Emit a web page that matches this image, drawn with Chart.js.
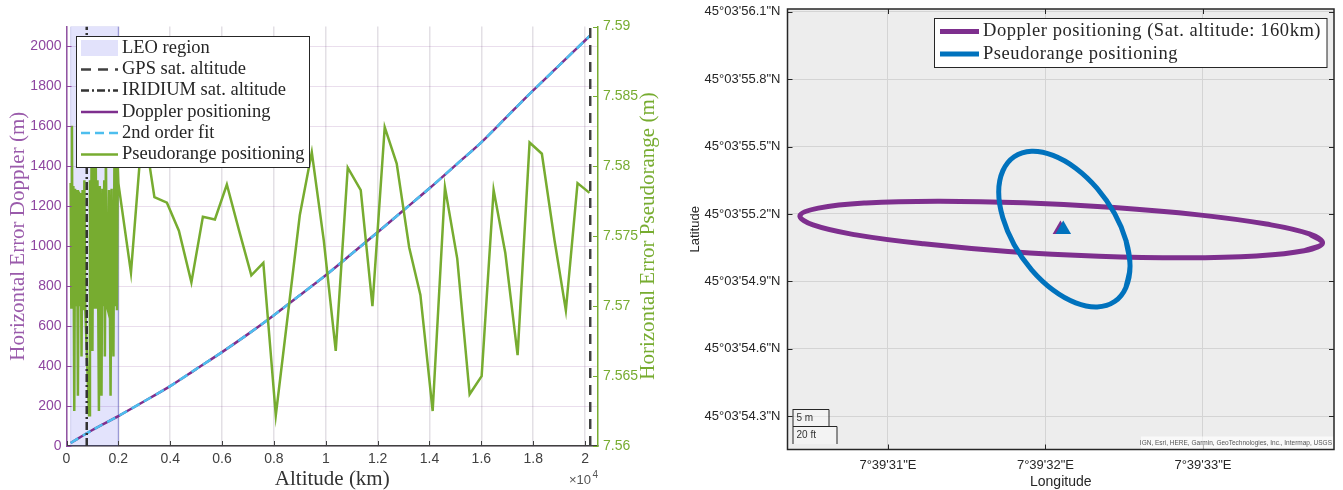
<!DOCTYPE html>
<html>
<head>
<meta charset="utf-8">
<script src="https://cdn.jsdelivr.net/npm/chart.js@4"></script>
<style>
  html, body { margin: 0; padding: 0; background: #fff; overflow: hidden; }
  canvas { position: absolute; top: 0; }
  #altChart { left: 0; }
  #mapChart { left: 672px; }
</style>
</head>
<body>
<canvas id="altChart" width="672" height="490"></canvas>
<canvas id="mapChart" width="671" height="490"></canvas>
<script>
// ─── Left chart data (altitude in km) ───
const leoKm = [160, 160, 2000, 2000];
const leoTop = [0, 2100, 2100, 0];
const gpsKm = [20200, 20200];
const iridiumKm = [780, 780];
const markerY = [0, 2100];
const altTicks = [0, 2000, 4000, 6000, 8000, 10000, 12000, 14000, 16000, 18000, 20000];
const altLabels = ['0', '0.2', '0.4', '0.6', '0.8', '1', '1.2', '1.4', '1.6', '1.8', '2'];

const dopplerKm = [160, 1000, 2000, 3000, 4000, 5000, 6000, 7000, 8000, 9000, 10000, 11000, 12000, 13000, 14000, 15000, 16000, 17000, 18000, 19000, 20000, 20200];
const dopplerErr = [15, 80, 150, 224, 300, 385, 470, 560, 655, 755, 855, 962, 1070, 1180, 1290, 1405, 1520, 1650, 1780, 1905, 2030, 2055];
const fitErr = [15, 80, 150, 224, 300, 385, 470, 560, 655, 755, 855, 962, 1070, 1180, 1290, 1405, 1520, 1650, 1780, 1905, 2030, 2055];

const pseudoKm = [160, 185, 210, 235, 265, 300, 330, 370, 405, 440, 480, 515, 545, 580, 620, 655, 690, 720, 870, 905, 935, 965, 1000, 1030, 1065, 1085, 1100, 1130, 1165, 1195, 1250, 1285, 1320, 1350, 1385, 1420, 1455, 1480, 1520, 1560, 1600, 1640, 1700, 1740, 1775, 1810, 1850, 1890, 1925, 1945, 1975, 2000,
  2486, 2948, 3391, 3873, 4335, 4817, 5260, 5723, 6185, 6657, 7129, 7592, 8073, 8998, 9461, 9923, 10385, 10848, 11349, 11800, 12274, 12736, 13218, 13650, 14123, 14597, 15071, 15549, 16012, 16474, 16925, 17399, 17861, 18335, 18824, 19260, 19711, 20173];
const pseudoErr = [7.5788, 7.5699, 7.5829, 7.5699, 7.5786, 7.5625, 7.5784, 7.5700, 7.5783, 7.5636, 7.5782, 7.5700, 7.5781, 7.5664, 7.5783, 7.5697, 7.5790, 7.5700, 7.5622, 7.5790, 7.5700, 7.5800, 7.5668, 7.5820, 7.5700, 7.5820, 7.5699, 7.5800, 7.5700, 7.5790, 7.5625, 7.5786, 7.5700, 7.5636, 7.5784, 7.5700, 7.5790, 7.5664, 7.5810, 7.5700, 7.5697, 7.5783, 7.5636, 7.5784, 7.5700, 7.5664, 7.5810, 7.5700, 7.5815, 7.5697, 7.5800, 7.5788,
  7.5724, 7.5832, 7.5778, 7.5774, 7.5754, 7.5717, 7.5764, 7.5762, 7.5787, 7.5754, 7.5722, 7.5731, 7.5622, 7.5765, 7.5810, 7.5747, 7.5668, 7.5799, 7.5783, 7.5700, 7.5828, 7.5802, 7.5742, 7.5708, 7.5625, 7.5785, 7.5734, 7.5637, 7.5650, 7.5783, 7.5738, 7.5665, 7.5817, 7.5809, 7.5747, 7.5697, 7.5788, 7.5781];

// ─── Right chart data (arc seconds past 7°39' E and 45°03' N) ───
const dopplerLon = [33.759, 33.676, 33.403, 32.973, 32.437, 31.861, 31.313, 30.861, 30.558, 30.441, 30.524, 30.797, 31.227, 31.763, 32.339, 32.887, 33.339, 33.642];
const dopplerLat = [55.070, 55.111, 55.155, 55.196, 55.229, 55.250, 55.257, 55.249, 55.226, 55.193, 55.151, 55.107, 55.067, 55.033, 55.012, 55.005, 55.013, 55.036];
const pseudoLon = [32.537, 32.511, 32.439, 32.328, 32.192, 32.048, 31.912, 31.801, 31.729, 31.703, 31.729, 31.801, 31.912, 32.048, 32.192, 32.328, 32.439, 32.511];
const pseudoLat = [54.968, 55.082, 55.202, 55.314, 55.404, 55.461, 55.479, 55.455, 55.392, 55.298, 55.183, 55.063, 54.951, 54.861, 54.804, 54.786, 54.810, 54.873];
const dopplerFixLon = [32.095];
const pseudoFixLon = [32.113];
const fixLat = [55.131];

const lonTicks = [31, 32, 33];
const lonLabels = ['7°39\'31"E', '7°39\'32"E', '7°39\'33"E'];
const latTicks = [54.3, 54.6, 54.9, 55.2, 55.5, 55.8, 56.1];
const latLabels = ['45°03\'54.3"N', '45°03\'54.6"N', '45°03\'54.9"N', '45°03\'55.2"N', '45°03\'55.5"N', '45°03\'55.8"N', '45°03\'56.1"N'];

const PURPLE = '#7E2F8E';
const GREEN = '#77AC30';
const CYAN = '#4DBEEE';
const BLUE = '#0072BD';
const SERIF = "'Liberation Serif', serif";
const SANS = "'Liberation Sans', sans-serif";

const zip = (xs, ys) => xs.map((x, i) => ({ x, y: ys[i] }));
// repeat the ends so the spline closes the ellipse smoothly
const loop = pts => [pts[pts.length - 1], ...pts, pts[0], pts[1]];

// ─── Plugins ───
const insideTicks = {
    id: 'insideTicks',
    afterDatasetsDraw(chart, args, opts) {
        const ctx = chart.ctx;
        const a = chart.chartArea;
        ctx.save();
        ctx.lineWidth = 1;
        (opts.axes || []).forEach(t => {
            const scale = chart.scales[t.id];
            ctx.strokeStyle = t.color;
            scale.ticks.forEach(tick => {
                const p = Math.round(scale.getPixelForValue(tick.value)) + 0.5;
                ctx.beginPath();
                t.sides.forEach(side => {
                    if (side === 'bottom') { ctx.moveTo(p, a.bottom); ctx.lineTo(p, a.bottom - t.len); }
                    if (side === 'top') { ctx.moveTo(p, a.top); ctx.lineTo(p, a.top + t.len); }
                    if (side === 'left') { ctx.moveTo(a.left, p); ctx.lineTo(a.left + t.len, p); }
                    if (side === 'right') { ctx.moveTo(a.right, p); ctx.lineTo(a.right - t.len, p); }
                });
                ctx.stroke();
            });
        });
        ctx.restore();
    }
};

const boxLegend = {
    id: 'boxLegend',
    afterDraw(chart, args, opts) {
        const ctx = chart.ctx;
        ctx.save();
        ctx.fillStyle = '#fff';
        ctx.fillRect(opts.x, opts.y, opts.w, opts.h);
        ctx.strokeStyle = '#262626';
        ctx.lineWidth = 1;
        ctx.strokeRect(opts.x, opts.y, opts.w, opts.h);
        ctx.font = opts.font;
        ctx.letterSpacing = opts.spacing || '0px';
        ctx.textBaseline = 'middle';
        const rows = chart.data.datasets.filter(d => d.label);
        rows.forEach((d, i) => {
            const y = opts.rows[i];
            if (d.fill) {
                ctx.fillStyle = '#E2E2FB';
                ctx.fillRect(opts.sampleX, y - 8, opts.sampleW, 16);
            } else {
                ctx.strokeStyle = d.borderColor;
                ctx.lineWidth = d.borderWidth;
                ctx.setLineDash(d.borderDash || []);
                ctx.beginPath();
                ctx.moveTo(opts.sampleX, y);
                ctx.lineTo(opts.sampleX + opts.sampleW, y);
                ctx.stroke();
                ctx.setLineDash([]);
            }
            ctx.fillStyle = '#262626';
            ctx.fillText(d.label, opts.textX, y);
        });
        ctx.restore();
    }
};

const altExtras = {
    id: 'altExtras',
    afterDraw(chart) {
        const ctx = chart.ctx;
        ctx.save();
        ctx.fillStyle = '#555';
        ctx.textAlign = 'right';
        ctx.font = '10px ' + SANS;
        ctx.fillText('4', 598, 478);
        ctx.font = '13px ' + SANS;
        ctx.fillText('×10', 591, 484);
        // Chart.js turns a right axis title the other way, so it is drawn here
        ctx.translate(648, 236);
        ctx.rotate(-Math.PI / 2);
        ctx.textAlign = 'center';
        ctx.textBaseline = 'middle';
        ctx.fillStyle = GREEN;
        ctx.font = '21px ' + SERIF;
        ctx.fillText('Horizontal Error Pseudorange (m)', 0, 0);
        ctx.restore();
    }
};

const mapExtras = {
    id: 'mapExtras',
    beforeDatasetsDraw(chart) {
        const ctx = chart.ctx;
        const a = chart.chartArea;
        ctx.save();
        // scale bar
        ctx.fillStyle = 'rgba(255,255,255,0.35)';
        ctx.fillRect(a.left + 6, 409, 36, 17);
        ctx.fillRect(a.left + 6, 426, 44, 18);
        ctx.restore();
    },
    afterDatasetsDraw(chart) {
        const ctx = chart.ctx;
        const a = chart.chartArea;
        ctx.save();
        ctx.strokeStyle = '#262626';
        ctx.lineWidth = 1;
        ctx.beginPath();
        ctx.moveTo(a.left + 5.5, 409); ctx.lineTo(a.left + 5.5, 444);
        ctx.moveTo(a.left + 5.5, 409.5); ctx.lineTo(a.left + 41.5, 409.5); ctx.lineTo(a.left + 41.5, 426.5);
        ctx.moveTo(a.left + 5.5, 426.5); ctx.lineTo(a.left + 49.5, 426.5); ctx.lineTo(a.left + 49.5, 444);
        ctx.stroke();
        ctx.fillStyle = '#333';
        ctx.font = '10px ' + SANS;
        ctx.textBaseline = 'middle';
        ctx.fillText('5 m', a.left + 9, 418.5);
        ctx.fillText('20 ft', a.left + 9, 435.5);
        // attribution
        ctx.fillStyle = 'rgba(255,255,255,0.65)';
        ctx.fillRect(a.right - 193, a.bottom - 13, 193, 13);
        ctx.fillStyle = '#555';
        ctx.font = '6.5px ' + SANS;
        ctx.textAlign = 'right';
        ctx.fillText('IGN, Esri, HERE, Garmin, GeoTechnologies, Inc., Intermap, USGS', a.right - 2, a.bottom - 6);
        // frame
        ctx.strokeStyle = '#262626';
        ctx.lineWidth = 1.5;
        ctx.strokeRect(a.left, a.top, a.right - a.left, a.bottom - a.top);
        ctx.restore();
    }
};

const mapBackground = {
    id: 'mapBackground',
    beforeDraw(chart) {
        const a = chart.chartArea;
        chart.ctx.fillStyle = '#EDEDED';
        chart.ctx.fillRect(a.left, a.top, a.right - a.left, a.bottom - a.top);
    }
};

// ─── Altitude chart ───
new Chart(document.getElementById('altChart'), {
    type: 'line',
    plugins: [insideTicks, boxLegend, altExtras],
    data: {
        datasets: [
            { label: 'LEO region', data: zip(leoKm, leoTop), yAxisID: 'y', order: 5, fill: 'origin', backgroundColor: 'rgba(90,90,235,0.17)', borderColor: 'rgba(90,90,200,0.25)', borderWidth: 1, pointRadius: 0 },
            { label: 'GPS sat. altitude', data: zip(gpsKm, markerY), yAxisID: 'y', order: 1, borderColor: '#404040', borderWidth: 2.5, borderDash: [10, 7], pointRadius: 0 },
            { label: 'IRIDIUM sat. altitude', data: zip(iridiumKm, markerY), yAxisID: 'y', order: 0, borderColor: '#333333', borderWidth: 2.5, borderDash: [8, 3, 2, 3], pointRadius: 0 },
            { label: 'Doppler positioning', data: zip(dopplerKm, dopplerErr), yAxisID: 'y', order: 4, borderColor: PURPLE, borderWidth: 2.5, tension: 0.3, pointRadius: 0 },
            { label: '2nd order fit', data: zip(dopplerKm, fitErr), yAxisID: 'y', order: 3, borderColor: CYAN, borderWidth: 2.5, borderDash: [9, 5], tension: 0.3, pointRadius: 0 },
            { label: 'Pseudorange positioning', data: zip(pseudoKm, pseudoErr), yAxisID: 'y1', order: 2, borderColor: GREEN, borderWidth: 2.5, pointRadius: 0 }
        ]
    },
    options: {
        responsive: false,
        animation: false,
        layout: { padding: { top: 26.5 } },
        scales: {
            x: {
                type: 'linear', min: 0, max: 20500,
                afterFit(s) { s.height = 44; },
                afterBuildTicks(s) { s.ticks = altTicks.map(value => ({ value })); },
                grid: { color: 'rgba(70,50,80,0.15)', tickLength: 0, lineWidth: 1.5 },
                border: { color: '#404040', width: 1.5 },
                ticks: { maxRotation: 0, padding: 5, color: '#404040', font: { family: SANS, size: 14 }, callback: v => altLabels[altTicks.indexOf(v)] },
                title: { display: true, text: 'Altitude (km)', color: '#333', font: { family: SERIF, size: 21 }, padding: { top: 0, bottom: -2 } }
            },
            y: {
                position: 'left', min: 0, max: 2100,
                afterFit(s) { s.width = 66.5; },
                grid: { color: 'rgba(126,47,142,0.16)', tickLength: 0 },
                border: { color: '#9255A3', width: 1.5 },
                ticks: { stepSize: 200, includeBounds: false, padding: 5, color: '#8E45A0', font: { family: SANS, size: 14 }, callback: v => String(v) },
                title: { display: true, text: 'Horizontal Error Doppler (m)', color: '#9A5BAB', font: { family: SERIF, size: 21 }, padding: { top: 6, bottom: 0 } }
            },
            y1: {
                position: 'right', min: 7.56, max: 7.59,
                afterFit(s) { s.width = 74; },
                grid: { display: false, tickLength: 0 },
                border: { color: GREEN, width: 1.5 },
                ticks: { stepSize: 0.005, padding: 5, color: GREEN, font: { family: SANS, size: 14 }, callback: v => String(parseFloat(v.toFixed(3))) }
            }
        },
        plugins: {
            legend: { display: false },
            tooltip: { enabled: false },
            insideTicks: {
                axes: [
                    { id: 'x', sides: ['bottom'], len: 5, color: '#404040' },
                    { id: 'y', sides: ['left'], len: 5, color: '#8E45A0' },
                    { id: 'y1', sides: ['right'], len: 5, color: GREEN }
                ]
            },
            boxLegend: { x: 76.5, y: 36.5, w: 233, h: 131, rows: [48, 69.5, 90.5, 112, 133, 154.5], sampleX: 81, sampleW: 37, textX: 122, font: '18.5px ' + SERIF }
        }
    }
});

// ─── Map chart ───
new Chart(document.getElementById('mapChart'), {
    type: 'line',
    plugins: [mapBackground, insideTicks, mapExtras, boxLegend],
    data: {
        datasets: [
            { label: 'Doppler positioning (Sat. altitude: 160km)', data: loop(zip(dopplerLon, dopplerLat)), order: 3, borderColor: PURPLE, borderWidth: 5, tension: 0.4, pointRadius: 0 },
            { label: 'Pseudorange positioning', data: loop(zip(pseudoLon, pseudoLat)), order: 2, borderColor: BLUE, borderWidth: 5, tension: 0.4, pointRadius: 0 },
            { data: zip(dopplerFixLon, fixLat), order: 1, showLine: false, pointStyle: 'triangle', pointRadius: 9, pointBackgroundColor: PURPLE, pointBorderWidth: 0 },
            { data: zip(pseudoFixLon, fixLat), order: 0, showLine: false, pointStyle: 'triangle', pointRadius: 9, pointBackgroundColor: BLUE, pointBorderWidth: 0 }
        ]
    },
    options: {
        responsive: false,
        animation: false,
        layout: { padding: { top: 8, right: 5 } },
        scales: {
            x: {
                type: 'linear', min: 30.362, max: 33.832,
                afterFit(s) { s.height = 40.5; s.paddingLeft = 0; s.paddingRight = 0; },
                afterBuildTicks(s) { s.ticks = lonTicks.map(value => ({ value })); },
                grid: { color: '#D4D4D4', tickLength: 0 },
                border: { display: false },
                ticks: { padding: 8, maxRotation: 0, color: '#262626', font: { family: SANS, size: 13 }, callback: v => lonLabels[lonTicks.indexOf(v)] },
                title: { display: true, text: 'Longitude', color: '#262626', font: { family: SANS, size: 14 }, padding: { top: 0, bottom: -1 } }
            },
            y: {
                min: 54.151, max: 56.113,
                // the top tick label must not push the plot area down
                afterFit(s) { s.width = 115.5; s.paddingTop = 0; s.paddingBottom = 0; },
                afterBuildTicks(s) { s.ticks = latTicks.map(value => ({ value })); },
                grid: { color: '#D4D4D4', tickLength: 0 },
                border: { display: false },
                ticks: { padding: 7, color: '#262626', font: { family: SANS, size: 13 }, callback: v => latLabels[latTicks.indexOf(v)] },
                title: { display: true, text: 'Latitude', color: '#262626', font: { family: SANS, size: 13 }, padding: { top: 16, bottom: 0 } }
            }
        },
        plugins: {
            legend: { display: false },
            tooltip: { enabled: false },
            insideTicks: {
                axes: [
                    { id: 'x', sides: ['bottom', 'top'], len: 5, color: '#262626' },
                    { id: 'y', sides: ['left', 'right'], len: 5, color: '#262626' }
                ]
            },
            boxLegend: { x: 262.5, y: 18.5, w: 392.5, h: 49, rows: [31.5, 54], sampleX: 268, sampleW: 39, textX: 311, font: '18.5px ' + SERIF, spacing: '0.55px' }
        }
    }
});
</script>
</body>
</html>
